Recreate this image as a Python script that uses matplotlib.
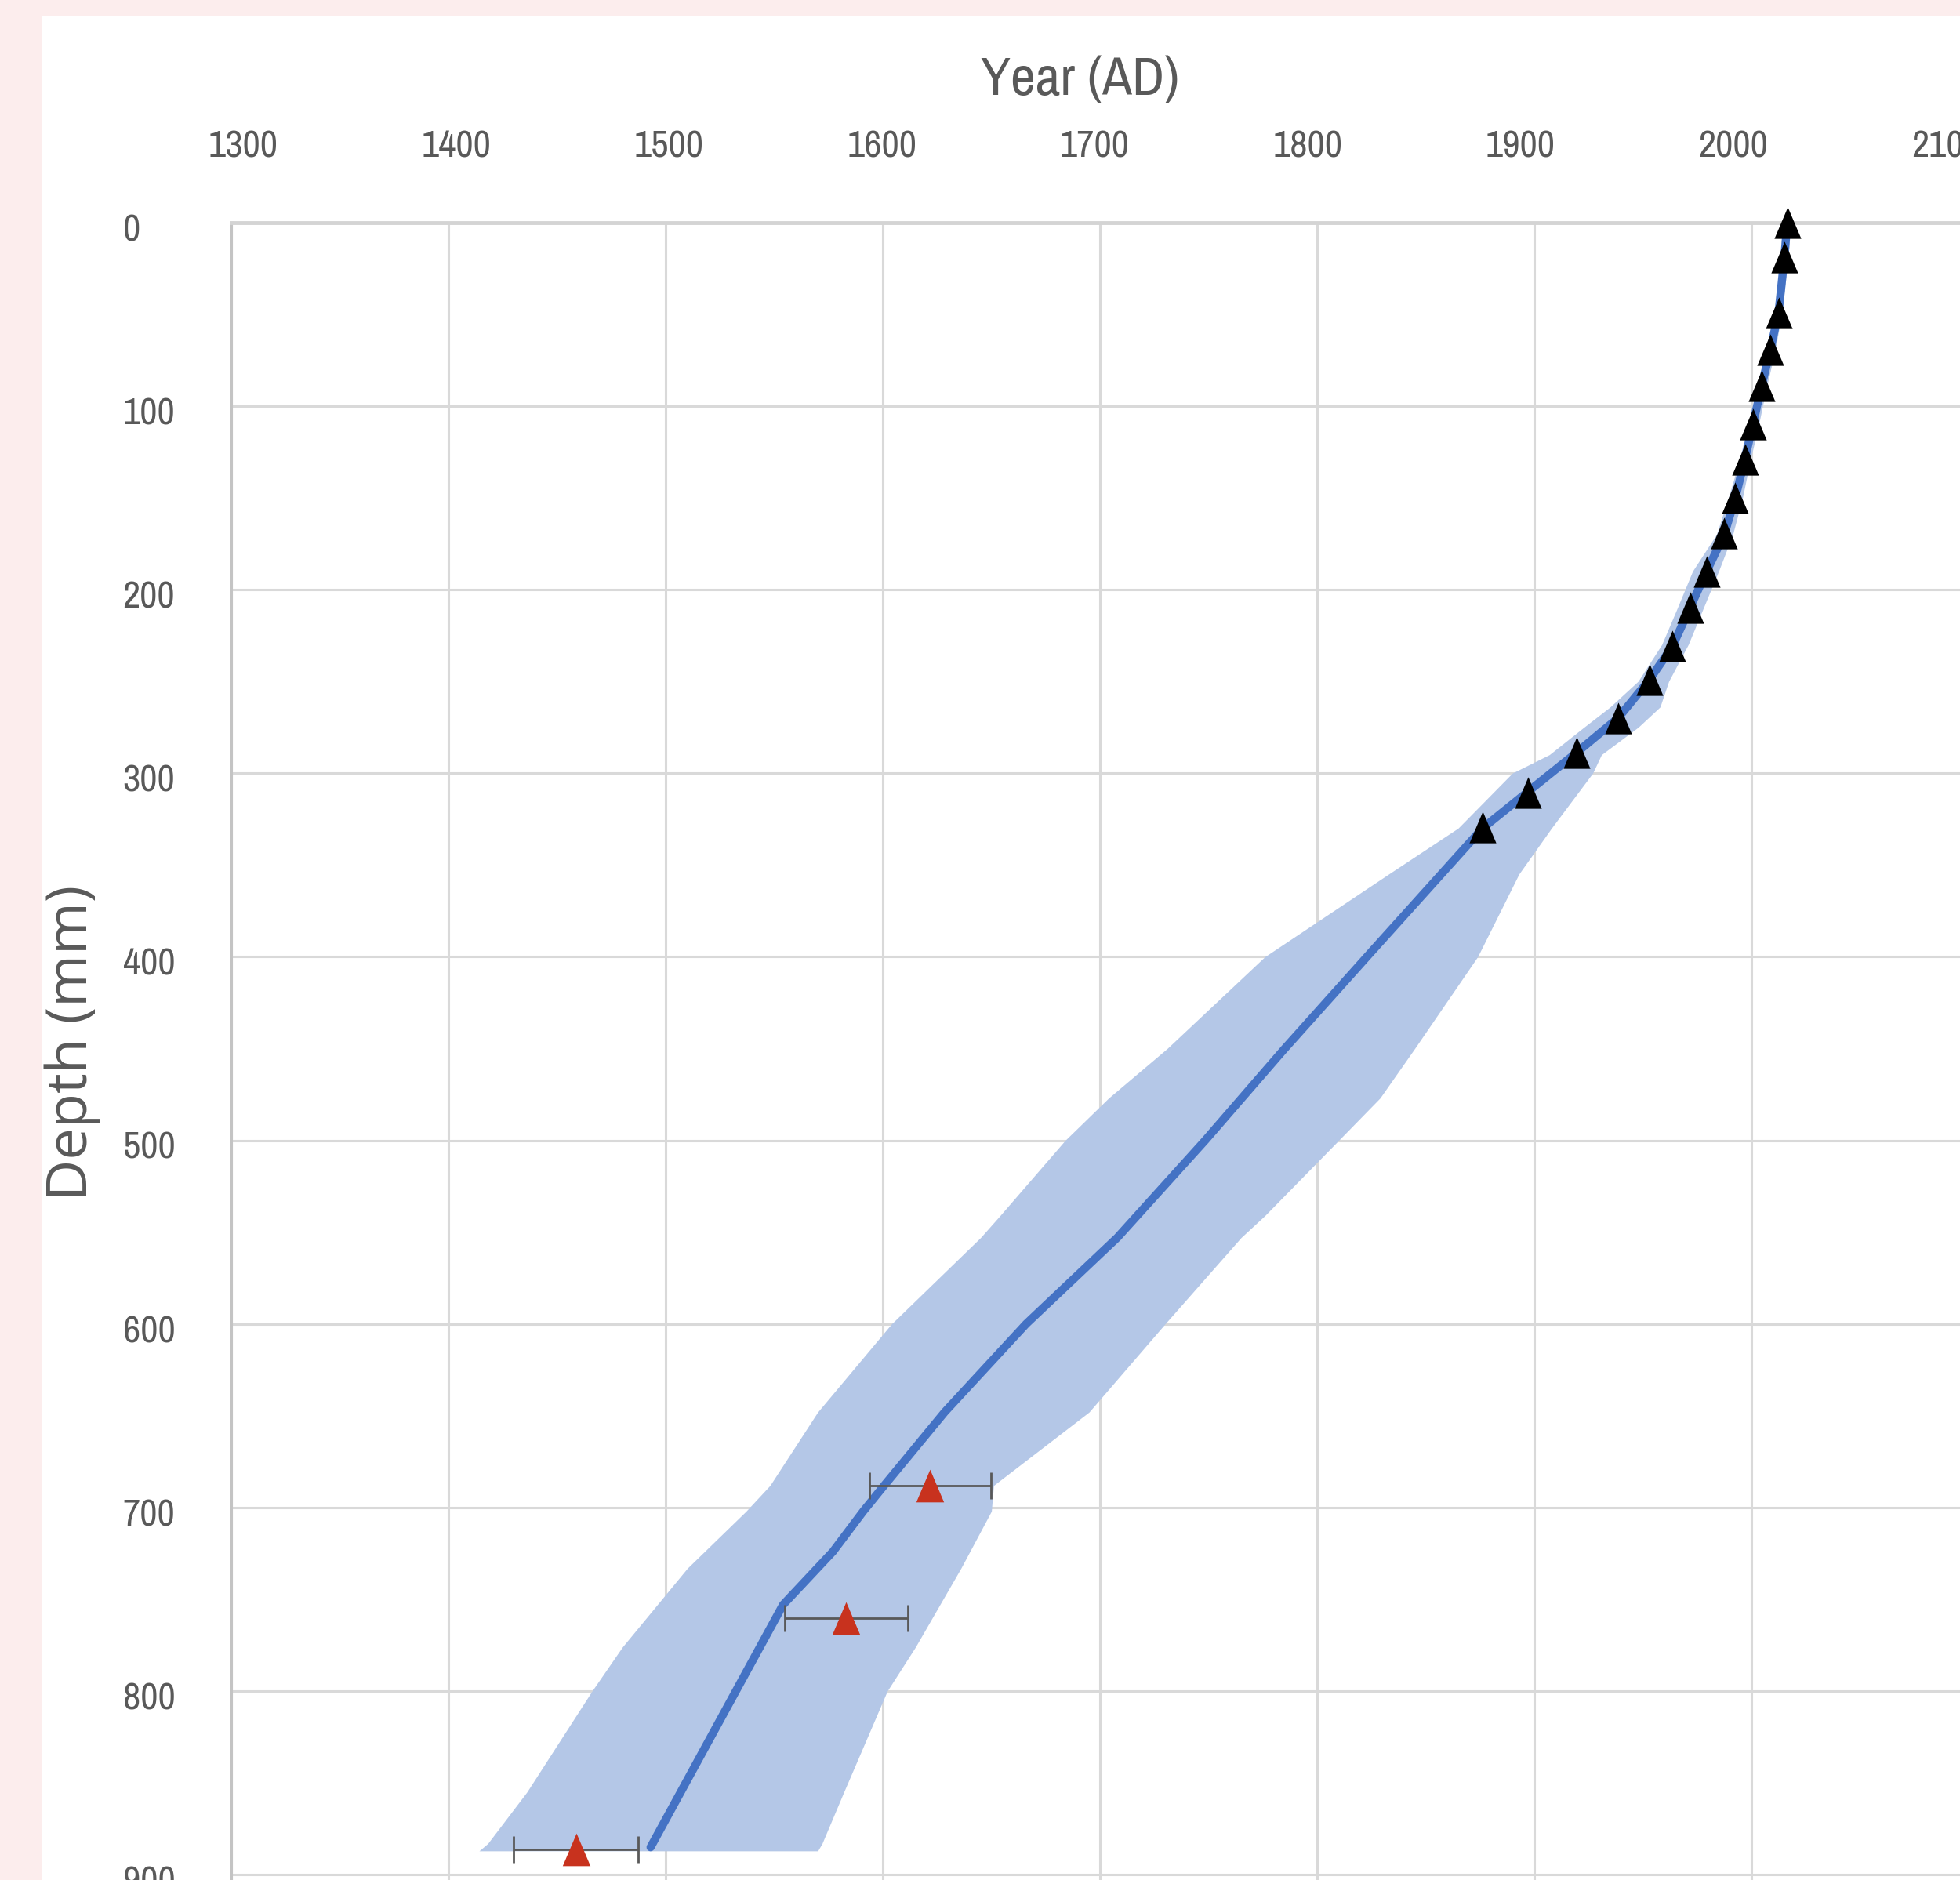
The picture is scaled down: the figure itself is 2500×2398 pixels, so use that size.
#!/usr/bin/env python3
"""Age-depth model: year (AD) against depth, with uncertainty band and dated horizons"""
import matplotlib
matplotlib.use('Agg')
import matplotlib.pyplot as plt
import matplotlib.font_manager as fm
from matplotlib.patches import Rectangle
from matplotlib.transforms import ScaledTranslation

# mean age-depth line
line_depth = [0, 19, 49, 69, 89, 110, 129, 150, 170, 190, 210, 231, 249, 270, 289,
              310, 330, 400, 451, 500, 553, 600, 648, 688, 702, 724, 753, 885]
line_year = [2016.6, 2015.3, 2012.6, 2008.9, 2004.8, 2000.8, 1997.1, 1992.7, 1987.6,
             1979.5, 1971.8, 1963.7, 1953.2, 1938.7, 1919.4, 1897.3, 1876.3, 1823.0,
             1784.4, 1748.5, 1708.0, 1666.0, 1628.5, 1600.6, 1591.0, 1577.0, 1554.0, 1493.0]

# uncertainty envelope
band_depth = [0, 20, 50, 70, 90, 110, 130, 150, 170, 190, 210, 230, 250, 264, 275, 290, 300,
              330, 355, 400, 450, 477, 500, 541, 553, 600, 648, 688, 702, 733, 776,
              800, 855, 883, 887]
band_left = [2015.5, 2013.5, 2011, 2007, 2003, 1998.5, 1994.5, 1989.5, 1984, 1973, 1966,
             1958.8, 1947.9, 1935, 1923, 1907, 1890, 1865, 1833, 1776, 1731, 1704, 1684, 1654,
             1645, 1604, 1570, 1548, 1537, 1510, 1480, 1466, 1436, 1418, 1414]
band_right = [2018, 2017, 2014, 2011, 2007, 2003.5, 1999.5, 1996, 1991.5, 1985, 1978, 1971,
              1962, 1958, 1948, 1931, 1927, 1908, 1893, 1874, 1845, 1829, 1810, 1776, 1765,
              1730, 1695, 1651, 1650, 1636, 1615, 1602, 1582, 1572, 1570]

# black triangles (upper dated horizons)
blk_depth = [0, 18.8, 49.4, 69.3, 89.1, 110, 129, 150, 169.5, 190.4, 210, 230.7, 249,
             270, 289, 310.5, 329.5]
blk_year = [2016.6, 2015.3, 2012.6, 2008.9, 2004.8, 2000.8, 1997.1, 1992.7, 1987.6,
            1979.5, 1971.8, 1963.7, 1953.2, 1938.7, 1919.4, 1897.3, 1876.3]

# red triangles with age error
red_depth = [688, 760.3, 886]
red_year = [1621.7, 1583.1, 1458.6]
red_err = [28, 28.3, 28.6]

x_ticks = list(range(1300, 2200, 100))
y_ticks = list(range(0, 1000, 100))

W, H = 2500, 2398
DPI = 100
GREY_TXT = '#595959'
GRID = '#D9D9D9'

# narrow face for the numbers; fall back to a regular sans at a smaller size
installed = {f.name for f in fm.fontManager.ttflist}
has_narrow = 'Archivo Narrow' in installed
NUM_FONT = ['Archivo Narrow', 'Liberation Sans', 'DejaVu Sans']
num_size = 35 if has_narrow else 32
title_size = 50 if has_narrow else 44

fig = plt.figure(figsize=(W / DPI, H / DPI), dpi=DPI, facecolor='#FCEDED')
fig.patches.append(Rectangle((53 / W, 0), 1 - 53 / W, 1 - 21 / H, transform=fig.transFigure,
                             facecolor='white', edgecolor='none', zorder=-5))

# axes in pixel terms: x 1300 at 295 px, 276.9 px per century; y 0 at 283.5 px, 2.342 px/mm
ax_left = 295.4 / W
ax_w = 8 * 276.9 / W
ax_h = 1000 * 2.342 / H
ax_bottom = (H - 283.5 - 1000 * 2.342) / H
ax = fig.add_axes([ax_left, ax_bottom, ax_w, ax_h])
ax.set_facecolor('white')
ax.set_xlim(1300, 2100)
ax.set_ylim(1000, 0)

ax.set_xticks(x_ticks)
ax.set_yticks(y_ticks)
ax.grid(True, color=GRID, linewidth=2.2, zorder=0)
ax.set_axisbelow(True)
ax.tick_params(axis='both', length=0)
ax.tick_params(axis='x', labelbottom=False, labeltop=False)
ax.tick_params(axis='y', pad=100, labelsize=num_size, labelcolor=GREY_TXT)
shift = ScaledTranslation(0, -6 / DPI, fig.dpi_scale_trans)
for lab in ax.get_yticklabels():
    lab.set_ha('left')
    lab.set_family(NUM_FONT)
    lab.set_transform(lab.get_transform() + shift)

for s in ['right', 'bottom']:
    ax.spines[s].set_visible(False)
ax.spines['top'].set_color('#D4D4D4')
ax.spines['top'].set_linewidth(3.5)
ax.spines['left'].set_color('#C4C4C4')
ax.spines['left'].set_linewidth(2.2)

ax.fill_betweenx(band_depth, band_left, band_right, color='#B4C7E7', linewidth=0, zorder=2)
ax.plot(line_year, line_depth, color='#4472C4', linewidth=7.5, solid_capstyle='round',
        solid_joinstyle='round', zorder=3)

tri = [(0, 1), (-0.85, -1), (0.85, -1)]
ax.errorbar(red_year, red_depth, xerr=red_err, fmt='none', ecolor=GREY_TXT,
            elinewidth=2, capsize=12, capthick=2, zorder=4)
ax.plot(red_year, red_depth, linestyle='none', marker=tri, markersize=30,
        color='#C8321E', markeredgewidth=0, zorder=5)
ax.plot(blk_year, blk_depth, linestyle='none', marker=tri, markersize=29,
        color='black', markeredgewidth=0, zorder=5, clip_on=False)

# top labels sit slightly compressed relative to the grid, as in the source chart
ax2 = ax.twiny()
ax2.set_xlim(1294.6, 2110.5)
ax2.set_xticks(x_ticks)
ax2.tick_params(axis='x', length=0, pad=54, labelsize=num_size, labelcolor=GREY_TXT)
for lab in ax2.get_xticklabels():
    lab.set_family(NUM_FONT)
for s in ax2.spines.values():
    s.set_visible(False)

fig.text(1378 / W, 1 - 101.7 / H, 'Year (AD)', ha='center', va='center',
         fontsize=title_size, color=GREY_TXT, family=NUM_FONT)
fig.text(92 / W, 1 - 1330 / H, 'Depth (mm)', ha='center', va='center', rotation=90,
         fontsize=52, color=GREY_TXT, family=['Open Sans', 'DejaVu Sans'])

fig.savefig('out.png', dpi=DPI, facecolor=fig.get_facecolor())
print('saved out.png')
